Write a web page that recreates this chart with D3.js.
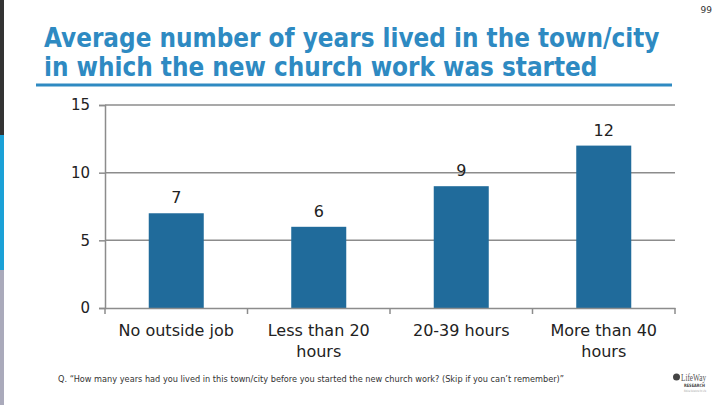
<!DOCTYPE html>
<html><head><meta charset="utf-8">
<script src="https://cdn.jsdelivr.net/npm/d3@7"></script>
<style>body{margin:0;background:#fff}svg{display:block}</style>
</head><body>
<svg id="c" width="720" height="405"></svg>
<script>
const categories = [["No outside job"], ["Less than 20", "hours"], ["20-39 hours"], ["More than 40", "hours"]];
const values = [7, 6, 9, 12];
const yTicks = [0, 5, 10, 15];
const titleLines = ["Average number of years lived in the town/city", "in which the new church work was started"];
const footnote = "Q. \u201cHow many years had you lived in this town/city before you started the new church work? (Skip if you can\u2019t remember)\u201d";

const svg = d3.select("#c");
const font = "'DejaVu Sans',sans-serif";

// left side strip
svg.append("rect").attr("x",0).attr("y",0).attr("width",4).attr("height",135).attr("fill","#333333");
svg.append("rect").attr("x",0).attr("y",135).attr("width",4).attr("height",135).attr("fill","#1ba1d7");
svg.append("rect").attr("x",0).attr("y",270).attr("width",4).attr("height",135).attr("fill","#aaaabb");

// page number
svg.append("text").attr("x",712).attr("y",13).attr("text-anchor","end")
  .attr("font-family",font).attr("font-size",9).attr("fill","#333").text("99");

// title
titleLines.forEach((t,i)=>{
  svg.append("text").attr("x",44).attr("y",47+i*29)
    .attr("font-family","'DejaVu Sans Condensed','DejaVu Sans',sans-serif").attr("font-weight","bold")
    .attr("font-size",25.8).attr("fill","#2e8ac2").text(t);
});
svg.append("rect").attr("x",36).attr("y",83.5).attr("width",636).attr("height",3).attr("fill","#2e8ac2");

// chart
const x = d3.scaleBand().domain(d3.range(categories.length)).range([105,675]).paddingInner(0.614).paddingOuter(0.307);
const xb = d3.scaleBand().domain(d3.range(categories.length)).range([105,675]);
const y = d3.scaleLinear().domain([0,15]).range([308,105]);

const g = svg.append("g");
// gridlines
g.selectAll("line.grid").data(yTicks.filter(d=>d>0)).join("line")
  .attr("x1",105).attr("x2",675).attr("y1",d=>y(d)).attr("y2",d=>y(d))
  .attr("stroke","#8c8c8c").attr("stroke-width",1.5);

// y axis
const yAxis = g.append("g").attr("transform","translate(105,0)")
  .call(d3.axisLeft(y).tickValues(yTicks).tickSize(6).tickPadding(9));
yAxis.select(".domain").attr("stroke","#8c8c8c").attr("stroke-width",1.5);
yAxis.selectAll(".tick line").attr("stroke","#8c8c8c").attr("stroke-width",1.5);
yAxis.selectAll(".tick text").attr("font-family",font).attr("font-size",15).attr("fill","#222");

// bars
g.selectAll("rect.bar").data(values).join("rect")
  .attr("x",(d,i)=>x(i)).attr("width",x.bandwidth())
  .attr("y",d=>y(d)).attr("height",d=>y(0)-y(d)).attr("fill","#206b9b");

// x axis
const xAxis = g.append("g").attr("transform","translate(0,308)")
  .call(d3.axisBottom(xb).tickSize(0).tickFormat(""));
xAxis.select(".domain").attr("stroke","#8c8c8c").attr("stroke-width",1.5);
g.selectAll("line.xt").data(d3.range(categories.length+1)).join("line")
  .attr("x1",i=>105+i*xb.step()).attr("x2",i=>105+i*xb.step())
  .attr("y1",308).attr("y2",314).attr("stroke","#8c8c8c").attr("stroke-width",1.5);

// value labels
g.selectAll("text.val").data(values).join("text")
  .attr("x",(d,i)=>x(i)+x.bandwidth()/2).attr("y",d=>y(d)-10)
  .attr("text-anchor","middle").attr("font-family",font).attr("font-size",16).attr("fill","#222")
  .text(d=>d);

// category labels
categories.forEach((lines,i)=>{
  const t = g.append("text").attr("x",xb(i)+xb.bandwidth()/2).attr("y",336)
    .attr("text-anchor","middle").attr("font-family",font).attr("font-size",16).attr("fill","#222");
  lines.forEach((l,j)=>t.append("tspan").attr("x",xb(i)+xb.bandwidth()/2).attr("y",336+j*21).text(l));
});

// footnote
svg.append("text").attr("x",58).attr("y",382).attr("font-family",font).attr("font-size",8)
  .attr("fill","#333").attr("textLength",506).attr("lengthAdjust","spacingAndGlyphs").text(footnote);

// logo
const lg = svg.append("g").attr("transform","translate(673,373)");
lg.append("circle").attr("cx",3.5).attr("cy",4).attr("r",3.5).attr("fill","#444");
lg.append("text").attr("x",8).attr("y",8).attr("font-family","'Liberation Serif',serif").attr("font-size",10)
  .attr("fill","#555").attr("textLength",25).attr("lengthAdjust","spacingAndGlyphs").text("LifeWay");
lg.append("text").attr("x",11).attr("y",14).attr("font-family",font).attr("font-weight","bold").attr("font-size",4.5)
  .attr("fill","#444").attr("textLength",21).attr("lengthAdjust","spacingAndGlyphs").text("RESEARCH");
lg.append("text").attr("x",11).attr("y",19).attr("font-family",font).attr("font-size",3)
  .attr("fill","#999").attr("textLength",22).attr("lengthAdjust","spacingAndGlyphs").text("Biblical Solutions for Life");
</script>
</body></html>
